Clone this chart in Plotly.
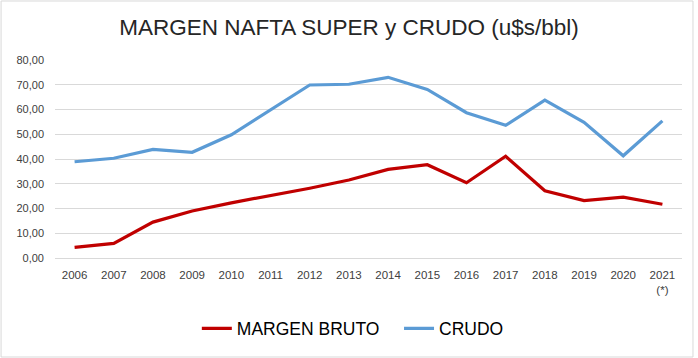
import plotly.graph_objects as go

years = ["2006", "2007", "2008", "2009", "2010", "2011", "2012", "2013",
         "2014", "2015", "2016", "2017", "2018", "2019", "2020", "2021<br>(*)"]
margen_bruto = [4.3, 5.9, 14.5, 19.0, 22.3, 25.2, 28.2, 31.5,
                35.8, 37.7, 30.4, 41.1, 27.2, 23.2, 24.6, 21.7]
crudo = [38.9, 40.3, 43.9, 42.7, 49.8, 59.8, 69.9, 70.2,
         73.0, 68.1, 58.7, 53.6, 63.8, 54.8, 41.3, 55.4]
y_ticks = [0, 10, 20, 30, 40, 50, 60, 70, 80]

FONT = "Liberation Sans, Arial, sans-serif"

fig = go.Figure()
fig.add_trace(go.Scatter(x=years, y=margen_bruto, mode="lines", name="MARGEN BRUTO   ",
                         line=dict(color="#C00000", width=3.2)))
fig.add_trace(go.Scatter(x=years, y=crudo, mode="lines", name="CRUDO",
                         line=dict(color="#5B9BD5", width=3.2)))

fig.update_layout(
    width=698, height=358,
    margin=dict(l=55, r=16, t=60, b=100, autoexpand=False),
    paper_bgcolor="white", plot_bgcolor="white",
    separators=",.",
    title=dict(text="MARGEN NAFTA SUPER y CRUDO (u$s/bbl)", x=0.5, xanchor="center",
               y=0.925, yanchor="middle", xref="container",
               font=dict(family=FONT, size=22.5, color="#262626")),
    legend=dict(orientation="h", x=0.475, xanchor="center", y=-0.265, yanchor="top",
                font=dict(family=FONT, size=17.5, color="#000000"),
                itemwidth=30, tracegroupgap=0),
    showlegend=True,
    shapes=[dict(type="rect", xref="paper", yref="paper",
                 x0=-0.086, x1=1.0175, y0=-0.5, y1=1.298,
                 line=dict(color="#D9D9D9", width=1), fillcolor="rgba(0,0,0,0)")],
)
fig.update_xaxes(type="category", range=[-0.5, 15.5], showgrid=False, showline=True,
                 linecolor="#D9D9D9", automargin=False,
                 ticks="", tickfont=dict(family=FONT, size=11.5, color="#404040"),
                 tickangle=0, ticklabelstandoff=6)
fig.update_yaxes(range=[0, 80], tickvals=y_ticks, tickformat=".2f", showgrid=True,
                 gridcolor="#D9D9D9", zeroline=False, showline=False, automargin=False,
                 tickfont=dict(family=FONT, size=11, color="#404040"),
                 ticklabelstandoff=10)

fig.write_html("out.html", config={"displayModeBar": False},
               post_script="document.body.style.margin='0';")
